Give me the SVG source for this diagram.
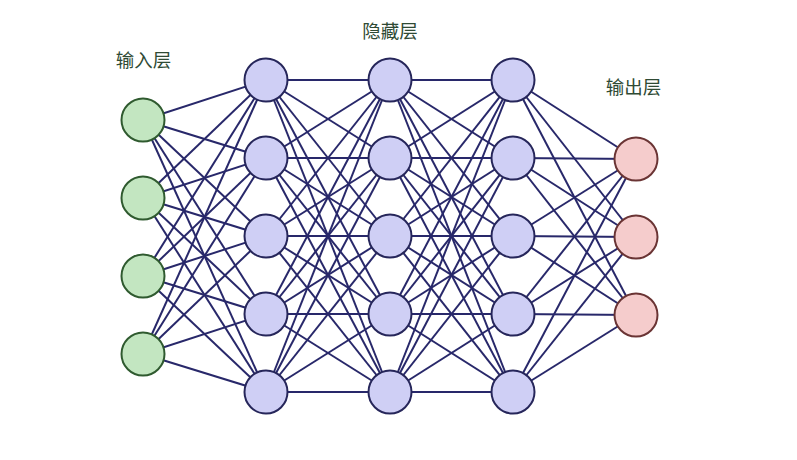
<svg xmlns="http://www.w3.org/2000/svg" width="797" height="460" viewBox="0 0 797 460">
<style>
.lbl{font-family:"Noto Sans CJK SC","Noto Sans",sans-serif;font-size:18.5px;fill:#2f4a34;text-anchor:middle}
.e{stroke:#28286a;stroke-width:2;fill:none}
.in{fill:#c3e6c1;stroke:#2f5a2f;stroke-width:2}
.hd{fill:#cfcff5;stroke:#26265a;stroke-width:2}
.out{fill:#f5cccc;stroke:#6a3434;stroke-width:2}
</style>
<rect width="797" height="460" fill="#ffffff"/>
<text class="lbl" x="143.5" y="66.5">输入层</text>
<text class="lbl" x="390" y="37.5">隐藏层</text>
<text class="lbl" x="633.5" y="93.5">输出层</text>
<g id="connectors" class="e">
<line x1="143" y1="120" x2="266" y2="80"/><line x1="143" y1="120" x2="266" y2="158"/><line x1="143" y1="120" x2="266" y2="236"/><line x1="143" y1="120" x2="266" y2="314"/><line x1="143" y1="120" x2="266" y2="392"/>
<line x1="143" y1="198" x2="266" y2="80"/><line x1="143" y1="198" x2="266" y2="158"/><line x1="143" y1="198" x2="266" y2="236"/><line x1="143" y1="198" x2="266" y2="314"/><line x1="143" y1="198" x2="266" y2="392"/>
<line x1="143" y1="276" x2="266" y2="80"/><line x1="143" y1="276" x2="266" y2="158"/><line x1="143" y1="276" x2="266" y2="236"/><line x1="143" y1="276" x2="266" y2="314"/><line x1="143" y1="276" x2="266" y2="392"/>
<line x1="143" y1="354" x2="266" y2="80"/><line x1="143" y1="354" x2="266" y2="158"/><line x1="143" y1="354" x2="266" y2="236"/><line x1="143" y1="354" x2="266" y2="314"/><line x1="143" y1="354" x2="266" y2="392"/>
<line x1="266" y1="80" x2="390" y2="80"/><line x1="266" y1="80" x2="390" y2="158"/><line x1="266" y1="80" x2="390" y2="236"/><line x1="266" y1="80" x2="390" y2="314"/><line x1="266" y1="80" x2="390" y2="392"/>
<line x1="266" y1="158" x2="390" y2="80"/><line x1="266" y1="158" x2="390" y2="158"/><line x1="266" y1="158" x2="390" y2="236"/><line x1="266" y1="158" x2="390" y2="314"/><line x1="266" y1="158" x2="390" y2="392"/>
<line x1="266" y1="236" x2="390" y2="80"/><line x1="266" y1="236" x2="390" y2="158"/><line x1="266" y1="236" x2="390" y2="236"/><line x1="266" y1="236" x2="390" y2="314"/><line x1="266" y1="236" x2="390" y2="392"/>
<line x1="266" y1="314" x2="390" y2="80"/><line x1="266" y1="314" x2="390" y2="158"/><line x1="266" y1="314" x2="390" y2="236"/><line x1="266" y1="314" x2="390" y2="314"/><line x1="266" y1="314" x2="390" y2="392"/>
<line x1="266" y1="392" x2="390" y2="80"/><line x1="266" y1="392" x2="390" y2="158"/><line x1="266" y1="392" x2="390" y2="236"/><line x1="266" y1="392" x2="390" y2="314"/><line x1="266" y1="392" x2="390" y2="392"/>
<line x1="390" y1="80" x2="513" y2="80"/><line x1="390" y1="80" x2="513" y2="158"/><line x1="390" y1="80" x2="513" y2="236"/><line x1="390" y1="80" x2="513" y2="314"/><line x1="390" y1="80" x2="513" y2="392"/>
<line x1="390" y1="158" x2="513" y2="80"/><line x1="390" y1="158" x2="513" y2="158"/><line x1="390" y1="158" x2="513" y2="236"/><line x1="390" y1="158" x2="513" y2="314"/><line x1="390" y1="158" x2="513" y2="392"/>
<line x1="390" y1="236" x2="513" y2="80"/><line x1="390" y1="236" x2="513" y2="158"/><line x1="390" y1="236" x2="513" y2="236"/><line x1="390" y1="236" x2="513" y2="314"/><line x1="390" y1="236" x2="513" y2="392"/>
<line x1="390" y1="314" x2="513" y2="80"/><line x1="390" y1="314" x2="513" y2="158"/><line x1="390" y1="314" x2="513" y2="236"/><line x1="390" y1="314" x2="513" y2="314"/><line x1="390" y1="314" x2="513" y2="392"/>
<line x1="390" y1="392" x2="513" y2="80"/><line x1="390" y1="392" x2="513" y2="158"/><line x1="390" y1="392" x2="513" y2="236"/><line x1="390" y1="392" x2="513" y2="314"/><line x1="390" y1="392" x2="513" y2="392"/>
<line x1="513" y1="80" x2="636" y2="159"/><line x1="513" y1="80" x2="636" y2="237"/><line x1="513" y1="80" x2="636" y2="315"/>
<line x1="513" y1="158" x2="636" y2="159"/><line x1="513" y1="158" x2="636" y2="237"/><line x1="513" y1="158" x2="636" y2="315"/>
<line x1="513" y1="236" x2="636" y2="159"/><line x1="513" y1="236" x2="636" y2="237"/><line x1="513" y1="236" x2="636" y2="315"/>
<line x1="513" y1="314" x2="636" y2="159"/><line x1="513" y1="314" x2="636" y2="237"/><line x1="513" y1="314" x2="636" y2="315"/>
<line x1="513" y1="392" x2="636" y2="159"/><line x1="513" y1="392" x2="636" y2="237"/><line x1="513" y1="392" x2="636" y2="315"/>
</g>
<g id="in1"><circle class="in" cx="143" cy="120" r="21.5"/></g>
<g id="in2"><circle class="in" cx="143" cy="198" r="21.5"/></g>
<g id="in3"><circle class="in" cx="143" cy="276" r="21.5"/></g>
<g id="in4"><circle class="in" cx="143" cy="354" r="21.5"/></g>
<g id="h1_1"><circle class="hd" cx="266" cy="80" r="21.5"/></g>
<g id="h1_2"><circle class="hd" cx="266" cy="158" r="21.5"/></g>
<g id="h1_3"><circle class="hd" cx="266" cy="236" r="21.5"/></g>
<g id="h1_4"><circle class="hd" cx="266" cy="314" r="21.5"/></g>
<g id="h1_5"><circle class="hd" cx="266" cy="392" r="21.5"/></g>
<g id="h2_1"><circle class="hd" cx="390" cy="80" r="21.5"/></g>
<g id="h2_2"><circle class="hd" cx="390" cy="158" r="21.5"/></g>
<g id="h2_3"><circle class="hd" cx="390" cy="236" r="21.5"/></g>
<g id="h2_4"><circle class="hd" cx="390" cy="314" r="21.5"/></g>
<g id="h2_5"><circle class="hd" cx="390" cy="392" r="21.5"/></g>
<g id="h3_1"><circle class="hd" cx="513" cy="80" r="21.5"/></g>
<g id="h3_2"><circle class="hd" cx="513" cy="158" r="21.5"/></g>
<g id="h3_3"><circle class="hd" cx="513" cy="236" r="21.5"/></g>
<g id="h3_4"><circle class="hd" cx="513" cy="314" r="21.5"/></g>
<g id="h3_5"><circle class="hd" cx="513" cy="392" r="21.5"/></g>
<g id="out1"><circle class="out" cx="636" cy="159" r="21.5"/></g>
<g id="out2"><circle class="out" cx="636" cy="237" r="21.5"/></g>
<g id="out3"><circle class="out" cx="636" cy="315" r="21.5"/></g>
</svg>
